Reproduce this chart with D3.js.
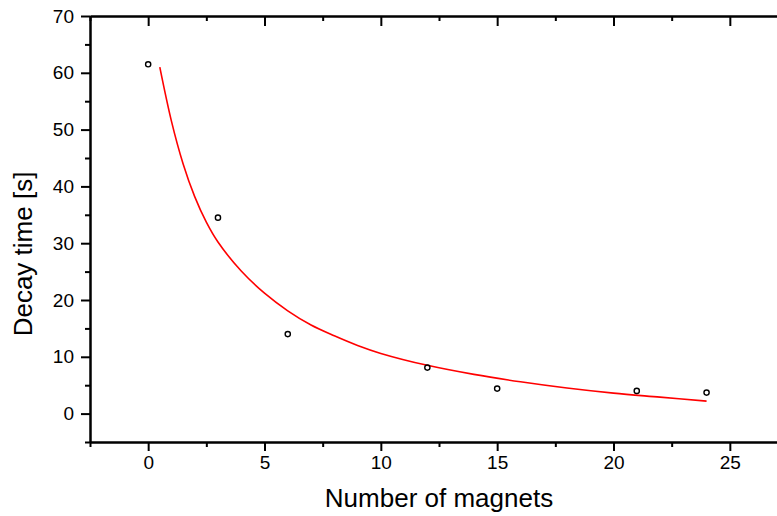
<!DOCTYPE html>
<html>
<head>
<meta charset="utf-8">
<script src="https://cdn.jsdelivr.net/npm/d3@7"></script>
<style>
  html, body { margin: 0; padding: 0; background: #fff; }
  svg { display: block; }
</style>
</head>
<body>
<div id="chart"></div>
<script>
// Measured points
const magnets = [0, 3, 6, 12, 15, 21, 24];
const decayTimes = [61.5, 34.5, 14.0, 8.1, 4.4, 4.0, 3.7];

// Fit curve
const fitX = [0.5, 1, 1.5, 2, 2.5, 3, 4, 5, 6, 7, 8, 9, 10, 12, 14, 16, 18, 20, 22, 24];
const fitY = [61.0, 51.5, 44.0, 38.2, 33.7, 30.2, 25.1, 21.2, 18.1, 15.6, 13.7, 12.0, 10.6, 8.5, 6.9, 5.6, 4.5, 3.6, 2.9, 2.2];

// Axes
const xMajorTicks = [0, 5, 10, 15, 20, 25];
const xMinorTicks = [-2.5, 2.5, 7.5, 12.5, 17.5, 22.5, 27.5];
const yMajorTicks = [0, 10, 20, 30, 40, 50, 60, 70];
const yMinorTicks = [-5, 5, 15, 25, 35, 45, 55, 65];

const W = 777, H = 516;
const margin = { top: 16, right: -11, bottom: 74, left: 90 };
const width = W - margin.left - margin.right;
const height = H - margin.top - margin.bottom;

const svg = d3.select('#chart').append('svg')
  .attr('width', W)
  .attr('height', H)
  .style('font-family', 'Arial, "Liberation Sans", sans-serif');

const g = svg.append('g')
  .attr('transform', `translate(${margin.left},${margin.top})`);

const x = d3.scaleLinear().domain([-2.5, 27.5]).range([0, width]);
const y = d3.scaleLinear().domain([-5, 70]).range([height, 0]);

function styleAxis(sel) {
  sel.select('.domain').attr('stroke', '#000').attr('stroke-width', 2);
  sel.selectAll('.tick line').attr('stroke', '#000').attr('stroke-width', 2);
  sel.selectAll('.tick text').attr('fill', '#000').style('font-size', '19px');
}

// Bottom axis
g.append('g')
  .attr('transform', `translate(0,${height})`)
  .call(d3.axisBottom(x).tickValues(xMinorTicks).tickSize(5).tickSizeOuter(0).tickFormat(''))
  .call(styleAxis);
g.append('g')
  .attr('transform', `translate(0,${height})`)
  .call(d3.axisBottom(x).tickValues(xMajorTicks).tickSize(9).tickSizeOuter(0).tickPadding(5).tickFormat(d3.format('d')))
  .call(styleAxis);

// Top axis, ticks inward
g.append('g')
  .call(d3.axisBottom(x).tickValues(xMinorTicks).tickSize(5).tickSizeOuter(0).tickFormat(''))
  .call(styleAxis);
g.append('g')
  .call(d3.axisBottom(x).tickValues(xMajorTicks).tickSize(10).tickSizeOuter(0).tickFormat(''))
  .call(styleAxis);

// Left axis
g.append('g')
  .call(d3.axisLeft(y).tickValues(yMinorTicks).tickSize(5).tickSizeOuter(0).tickFormat(''))
  .call(styleAxis);
g.append('g')
  .call(d3.axisLeft(y).tickValues(yMajorTicks).tickSize(9).tickSizeOuter(0).tickPadding(7).tickFormat(d3.format('d')))
  .call(styleAxis);

// Right axis, ticks inward (mostly off-canvas)
g.append('g')
  .attr('transform', `translate(${width},0)`)
  .call(d3.axisLeft(y).tickValues(yMajorTicks).tickSize(10).tickSizeOuter(0).tickFormat(''))
  .call(styleAxis);

// Fit curve
const fitData = fitX.map((v, i) => ({ x: v, y: fitY[i] }));
g.append('path')
  .datum(fitData)
  .attr('fill', 'none')
  .attr('stroke', '#ff0000')
  .attr('stroke-width', 1.6)
  .attr('d', d3.line().x(d => x(d.x)).y(d => y(d.y)).curve(d3.curveCatmullRom.alpha(0.5)));

// Data points
g.selectAll('.pt')
  .data(magnets.map((m, i) => ({ x: m, y: decayTimes[i] })))
  .enter()
  .append('circle')
  .attr('class', 'pt')
  .attr('cx', d => x(d.x))
  .attr('cy', d => y(d.y))
  .attr('r', 2.6)
  .attr('fill', 'none')
  .attr('stroke', '#000')
  .attr('stroke-width', 1.4);

// Axis titles
svg.append('text')
  .attr('x', 439)
  .attr('y', 507)
  .attr('text-anchor', 'middle')
  .style('font-size', '26px')
  .attr('fill', '#000')
  .text('Number of magnets');

svg.append('text')
  .attr('transform', 'translate(32,254) rotate(-90)')
  .attr('text-anchor', 'middle')
  .style('font-size', '26px')
  .attr('fill', '#000')
  .text('Decay time [s]');
</script>
</body>
</html>
